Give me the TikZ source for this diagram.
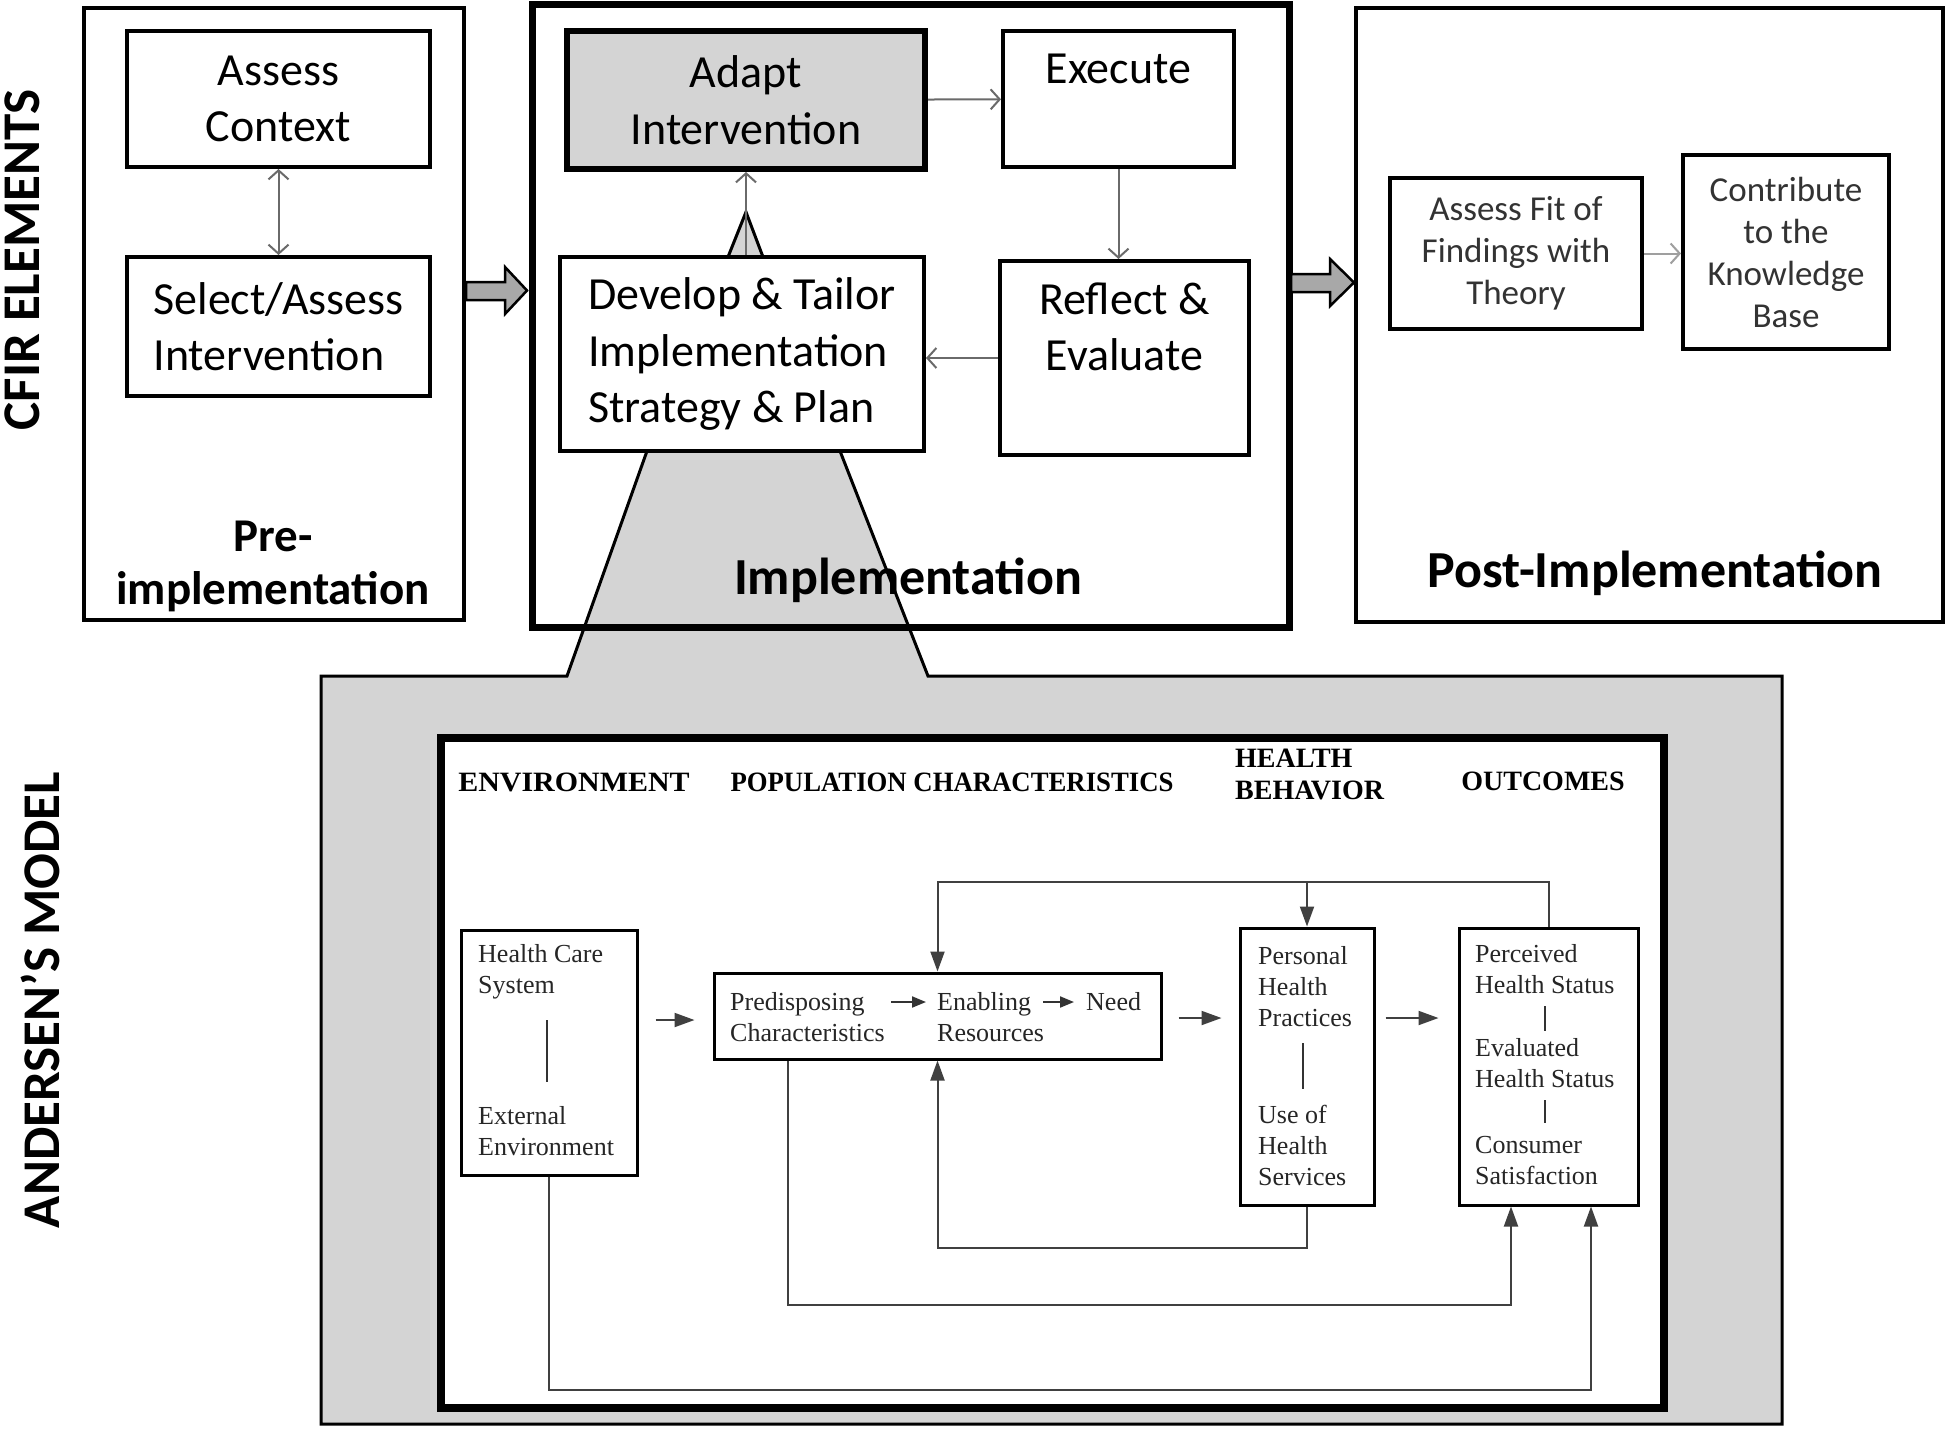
\documentclass[tikz,border=0pt]{standalone}
\usepackage{fontspec}
\setmainfont{Carlito}
\newfontfamily\tms{Liberation Serif}
\usetikzlibrary{arrows.meta}
\definecolor{boxgray}{HTML}{D4D4D4}
\definecolor{arrgray}{HTML}{A8A8A8}
\definecolor{linegray}{HTML}{6A6A6A}
\definecolor{txtgray}{HTML}{333333}
\begin{document}
\begin{tikzpicture}[x=1pt,y=-1pt,
  wh/.style 2 args={minimum width=#1pt,minimum height=#2pt},
  frame/.style={draw=black,line width=4pt,inner sep=0pt},
  cbox/.style={draw=black,line width=4pt,fill=white,inner sep=0pt,align=center,font=\fontsize{46}{56.5}\selectfont},
  pbox/.style={draw=black,line width=4pt,fill=white,inner sep=0pt,align=center,text=txtgray,font=\fontsize{35}{42}\selectfont},
  cfont/.style={font=\fontsize{46}{56.5}\selectfont},
  blabel/.style={font=\bfseries\fontsize{52}{58}\selectfont,inner sep=0pt,align=center},
  thinarr/.style={draw=linegray,line width=2pt,-{Straight Barb[length=9pt,width=20pt,line width=2pt]}},
  blockarr/.style={draw=black,line width=2.5pt,fill=arrgray},
  tbox/.style={draw=black,line width=3pt,fill=white,inner sep=0pt},
  atext/.style={font=\tms\fontsize{26}{31}\selectfont,align=left,inner sep=0pt,text=black!85},
  ahead/.style={font=\tms\bfseries\fontsize{28}{32}\selectfont,align=left,inner sep=0pt},
  flow/.style={draw=black!75,line width=2pt,-{Triangle[length=20pt,width=14pt]}},
  sflow/.style={draw=black!80,line width=2pt,-{Triangle[length=14pt,width=11pt]}},
  bar/.style={draw=black!80,line width=2pt}
]
\useasboundingbox[fill=white] (0,0) rectangle (1946,1428);

% gray magnifying region (Andersen background with cone)
\draw[fill=boxgray,line width=3pt] (321,676) -- (567,676) -- (647,451) -- (840,451) -- (928,676)
  -- (1782,676) -- (1782,1424) -- (321,1424) -- cycle;

% phase frames
\node[frame,wh={380}{612}] (pre) at (274,314) {};
\node[frame,line width=7pt,wh={757}{623}] (impl) at (910.5,315.5) {};
\node[frame,wh={587}{614}] (post) at (1649.5,315) {};

% vertical side labels
\node[rotate=90,font=\bfseries\fontsize{53}{60}\selectfont,inner sep=0pt] (cfir) at (22,260) {CFIR ELEMENTS};
\node[rotate=90,font=\bfseries\fontsize{53}{60}\selectfont,inner sep=0pt] (andm) at (40,1000) {ANDERSEN’S MODEL};

% pre-implementation
\node[cbox,wh={303}{136}] (assess) at (278.5,99) {Assess\\Context};
\node[cbox,wh={303}{139},align=left] (select) at (278.5,326.5) {Select/Assess\\Intervention};
\draw[thinarr,{Straight Barb[length=9pt,width=20pt,line width=2pt]}-{Straight Barb[length=9pt,width=20pt,line width=2pt]}] (assess) -- (select);
\node[blabel,font=\bfseries\fontsize{47}{53}\selectfont] (prelab) at (273,566) {Pre-\\implementation};

% implementation
\draw[fill=boxgray,line width=3pt] (728,257) -- (746,212) -- (763,257);
\node[cbox,fill=boxgray,line width=6pt,wh={358}{138}] (adapt) at (746,100) {Adapt\\Intervention};
\node[cbox,wh={231}{136},label={[cfont,anchor=center,yshift=-40pt]north:Execute}] (exec) at (1118.5,99) {};
\node[cbox,wh={364}{194},align=left] (develop) at (742,354) {Develop \& Tailor\\Implementation\\Strategy \& Plan};
\node[cbox,wh={249}{194},label={[cfont,align=center,anchor=center,yshift=-68pt]north:Reflect \&\\Evaluate}] (reflect) at (1124.5,358) {};
\draw[thinarr] (adapt) -- (exec);
\draw[thinarr] (exec.south) -- (exec.south |- reflect.north);
\draw[thinarr] (reflect.west) -- (reflect.west -| develop.east);
\draw[thinarr] ([xshift=4pt]develop.north) -- ([xshift=4pt]develop.north |- adapt.south);
\node[blabel] (impllab) at (908,580) {Implementation};

% post-implementation
\node[pbox,wh={252}{151}] (fit) at (1516,253.5) {Assess Fit of\\Findings with\\Theory};
\node[pbox,wh={206}{194}] (contrib) at (1786,252) {Contribute\\to the\\Knowledge\\Base};
\draw[thinarr,draw=gray!75] (fit.east) -- (fit.east -| contrib.west);
\node[blabel] (postlab) at (1655,573) {Post-Implementation};

% block arrows between phases
\draw[blockarr] (466,282) -- (505,282) -- (505,267) -- (527,290.5) -- (505,314) -- (505,300) -- (466,300) -- cycle;
\draw[blockarr] (1291,274) -- (1330,274) -- (1330,259) -- (1354,282.5) -- (1330,306) -- (1330,292) -- (1291,292) -- cycle;

% Andersen's model
\node[draw=black,line width=8pt,fill=white,inner sep=0pt,wh={1223}{670}] (andbox) at (1052.5,1073) {};
\node[ahead] (h1) at (574,782) {\scalebox{1.07}[1]{ENVIRONMENT}};
\node[ahead] (h2) at (952,782) {\scalebox{0.955}[1]{POPULATION CHARACTERISTICS}};
\node[ahead,anchor=west] (h3) at (1235,774) {HEALTH\\BEHAVIOR};
\node[ahead] (h4) at (1543,781) {OUTCOMES};

\node[tbox,wh={176}{245}] (hcs) at (549,1052.5) {};
\node[atext,anchor=west] (hcs1) at (478,972) {Health Care\\System};
\node[atext,anchor=west] (hcs2) at (478,1131) {External\\Environment};
\draw[bar] (547,1020) -- (547,1082);

\node[tbox,wh={447}{86}] (pred) at (937.5,1016) {};
\node[atext,anchor=west] (predt) at (730,1017) {Predisposing\\Characteristics};
\node[atext,anchor=west] (enabt) at (937,1017) {Enabling\\Resources};
\node[atext,anchor=west] (needt) at (1086,1002) {Need};
\coordinate (s1a) at (891,1002); \coordinate (s1b) at (926,1002);
\coordinate (s2a) at (1043,1002); \coordinate (s2b) at (1074,1002);
\draw[sflow] (s1a) -- (s1b);
\draw[sflow] (s2a) -- (s2b);

\node[tbox,wh={134}{277}] (pers) at (1307,1066.5) {};
\node[atext,anchor=west] (pers1) at (1258,986.5) {Personal\\Health\\Practices};
\node[atext,anchor=west] (pers2) at (1258,1145) {Use of\\Health\\Services};
\draw[bar] (1303,1043) -- (1303,1089);

\node[tbox,wh={179}{277}] (outc) at (1548.5,1066.5) {};
\node[atext,anchor=west] (out1) at (1475,969) {Perceived\\Health Status};
\node[atext,anchor=west] (out2) at (1475,1063.5) {Evaluated\\Health Status};
\node[atext,anchor=west] (out3) at (1475,1160.5) {Consumer\\Satisfaction};
\draw[bar] (1545,1006) -- (1545,1031);
\draw[bar] (1545,1100) -- (1545,1123);

\coordinate (r1) at (0,1020);
\coordinate (r2) at (0,1018);
\coordinate (fbtop) at (0,882);
\coordinate (fb2) at (0,1248);
\coordinate (fb3) at (0,1305);
\coordinate (fb4) at (0,1390);
\coordinate (pa) at (788,0);
\coordinate (oa) at (1511,0);
\coordinate (ob) at (1591,0);

\draw[flow,shorten <=17pt,shorten >=18pt] (hcs.east |- r1) -- (pred.west |- r1);
\draw[flow,shorten <=16pt,shorten >=17pt] (pred.east |- r2) -- (pers.west |- r2);
\draw[flow,shorten <=10pt,shorten >=19pt] (pers.east |- r2) -- (outc.west |- r2);

\draw[flow] (outc.north) -- (outc.north |- fbtop) -- (fbtop -| pred.north) -- (pred.north);
\draw[flow] (fbtop -| pers.north) -- (pers.north);
\draw[flow] (pers.south) -- (pers.south |- fb2) -- (fb2 -| pred.south) -- (pred.south);
\draw[flow] (pred.south -| pa) -- (pa |- fb3) -- (fb3 -| oa) -- (outc.south -| oa);
\draw[flow] (hcs.south) -- (hcs.south |- fb4) -- (fb4 -| ob) -- (outc.south -| ob);
\end{tikzpicture}
\end{document}
